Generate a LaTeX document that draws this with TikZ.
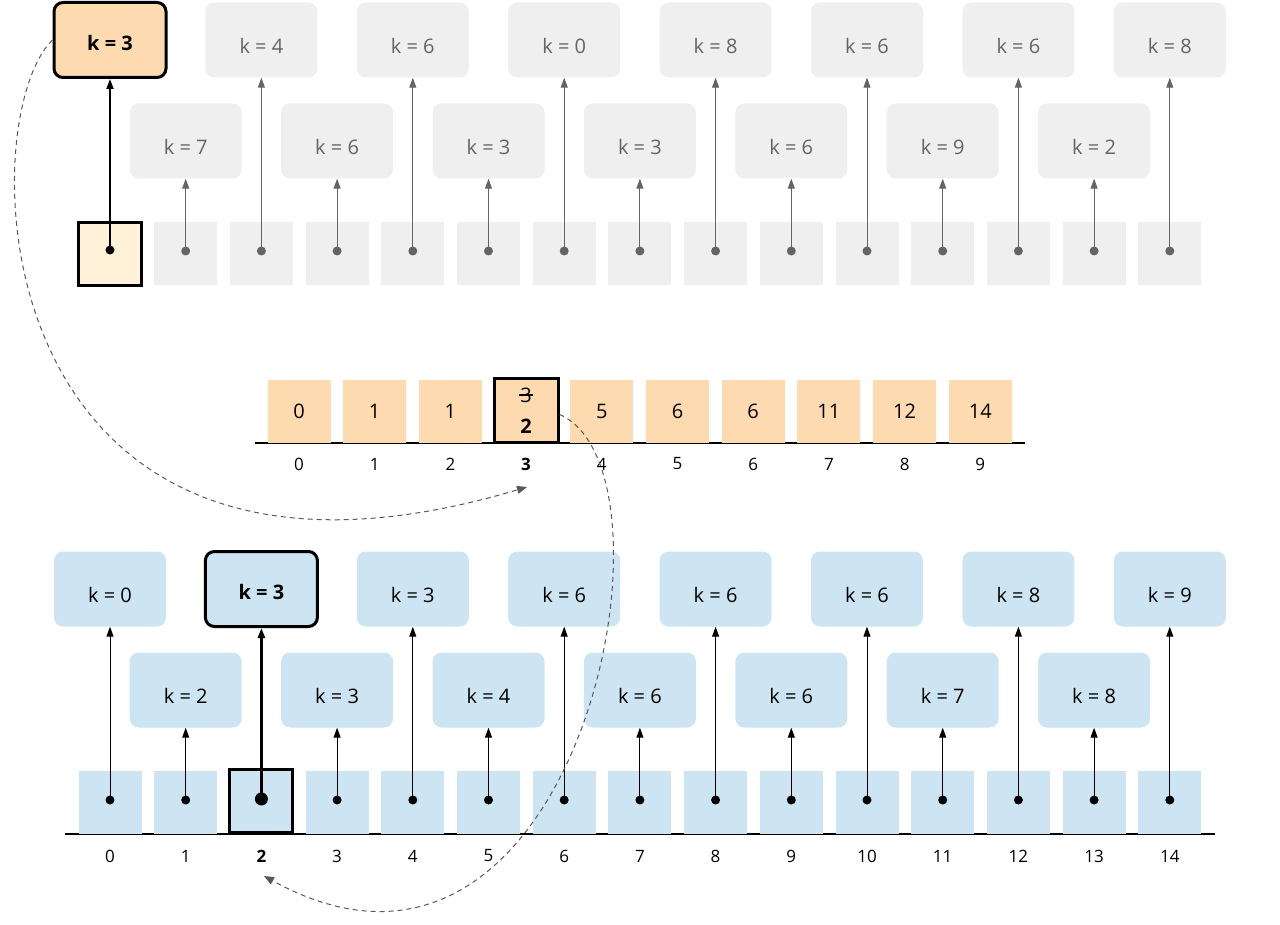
\documentclass[tikz,border=0pt]{standalone}
\usepackage{fontspec}
\setmainfont{Open Sans}
\usetikzlibrary{arrows.meta,calc}
\definecolor{org}{RGB}{253,218,175}
\definecolor{cream}{RGB}{255,242,217}
\definecolor{lgray}{RGB}{239,239,239}
\definecolor{tgray}{RGB}{100,100,100}
\definecolor{lblue}{RGB}{205,229,242}
\tikzset{
 cell/.style={minimum width=63pt,minimum height=63pt,inner sep=0pt,fill=#1},
 kbox/.style={minimum width=112pt,minimum height=75pt,rounded corners=9pt,fill=#1,inner sep=0pt,font=\fontsize{20}{20}\selectfont,text depth=0pt},
 dotn/.style={circle,fill=#1,inner sep=0pt,minimum size=9pt},
 garr/.style={draw=tgray,line width=1pt,-{Triangle[length=10pt,width=7pt]}},
 barr/.style={draw=black,line width=1pt,-{Triangle[length=10pt,width=7pt]}},
 hl/.style={draw=black,line width=3pt},
 idx/.style={font=\fontsize{17}{17}\selectfont},
 dsh/.style={draw=black!65,line width=1pt,dash pattern=on 5pt off 4pt},
}
\begin{document}
\begin{tikzpicture}[x=1pt,y=-1pt]
\useasboundingbox (0,0) rectangle (1280,925);
% top row
\foreach \i/\k in {0/3,1/7,2/4,3/6,4/6,5/3,6/0,7/3,8/8,9/6,10/6,11/9,12/6,13/2,14/8}{
  \pgfmathsetmacro{\xx}{110+75.7*\i}
  \pgfmathtruncatemacro{\ev}{mod(\i,2)==0}
  \pgfmathsetmacro{\yy}{\ev==1 ? 40 : 141}
  \ifnum\i=0
    \node[cell=cream,hl] (ts\i) at (\xx,254) {};
    \node[dotn=black] (td\i) at (\xx,250) {};
    \node[kbox=org,hl,font=\bfseries\fontsize{20}{20}\selectfont] (tk\i) at (\xx,\yy) {\raisebox{-6pt}{k = \k}};
    \draw[barr,line width=2pt] (td\i.center) -- (tk\i.south);
  \else
    \node[cell=lgray] (ts\i) at (\xx,254) {};
    \node[dotn=tgray] (td\i) at (\xx,251) {};
    \node[kbox=lgray,text=tgray] (tk\i) at (\xx,\yy) {\raisebox{-12pt}{k = \k}};
    \draw[garr] (td\i.center) -- (tk\i.south);
  \fi
}
% middle array
\draw[line width=1.2pt] (255,443) -- (1025,443);
\foreach \i/\v in {0/0,1/1,2/1,4/5,5/6,6/6,7/11,8/12,9/14}{
  \pgfmathsetmacro{\xx}{299+75.7*\i}
  \node[cell=org,anchor=south,font=\fontsize{20}{20}\selectfont] (m\i) at (\xx,443) {\v};
  \node[idx] (mi\i) at (\xx,464) {\i};
}
\node[cell=org,hl,anchor=south,minimum width=64pt,minimum height=64pt] (m3) at (526,444) {};
\node[font=\fontsize{20}{20}\selectfont] (m3a) at (526,395) {3};
\draw[line width=1.2pt] ([xshift=-7pt]m3a.center) -- ([xshift=7pt]m3a.center);
\node[font=\bfseries\fontsize{20}{20}\selectfont] (m3b) at (526,426) {2};
\node[idx,font=\bfseries\fontsize{17}{17}\selectfont] (mi3) at (526,464) {3};
% bottom row
\draw[line width=1.2pt] (65,834) -- (1215,834);
\foreach \i/\k in {0/0,1/2,2/3,3/3,4/3,5/4,6/6,7/6,8/6,9/6,10/6,11/7,12/8,13/8,14/9}{
  \pgfmathsetmacro{\xx}{110+75.7*\i}
  \pgfmathtruncatemacro{\ev}{mod(\i,2)==0}
  \pgfmathsetmacro{\yy}{\ev==1 ? 589 : 690}
  \ifnum\i=2
    \node[cell=lblue,hl,anchor=south] (bs\i) at (\xx,834) {};
    \node[dotn=black,minimum size=13pt] (bd\i) at (\xx,799) {};
    \node[kbox=lblue,hl,font=\bfseries\fontsize{20}{20}\selectfont] (bk\i) at (\xx,\yy) {\raisebox{-6pt}{k = \k}};
    \draw[barr,line width=2.5pt] (bd\i.center) -- (bk\i.south);
    \node[idx,font=\bfseries\fontsize{17}{17}\selectfont] (bi\i) at (\xx,856) {\i};
  \else
    \node[cell=lblue,anchor=south] (bs\i) at (\xx,834) {};
    \node[dotn=black] (bd\i) at (\xx,800) {};
    \node[kbox=lblue] (bk\i) at (\xx,\yy) {\raisebox{-12pt}{k = \k}};
    \draw[barr] (bd\i.center) -- (bk\i.south);
    \node[idx] (bi\i) at (\xx,856) {\i};
  \fi
}
% dashed connectors
\coordinate (e1) at (527,487);
\coordinate (e2) at (264,876);
\draw[dsh,-{Triangle[length=10pt,width=8pt]}] (tk0.west) .. controls (-30,120) and (-20,650) .. (e1);
\draw[dsh,-{Triangle[length=10pt,width=8pt]}] ([yshift=-4pt]m3.east) .. controls (690,470) and (580,1050) .. (e2);
\end{tikzpicture}
\end{document}
